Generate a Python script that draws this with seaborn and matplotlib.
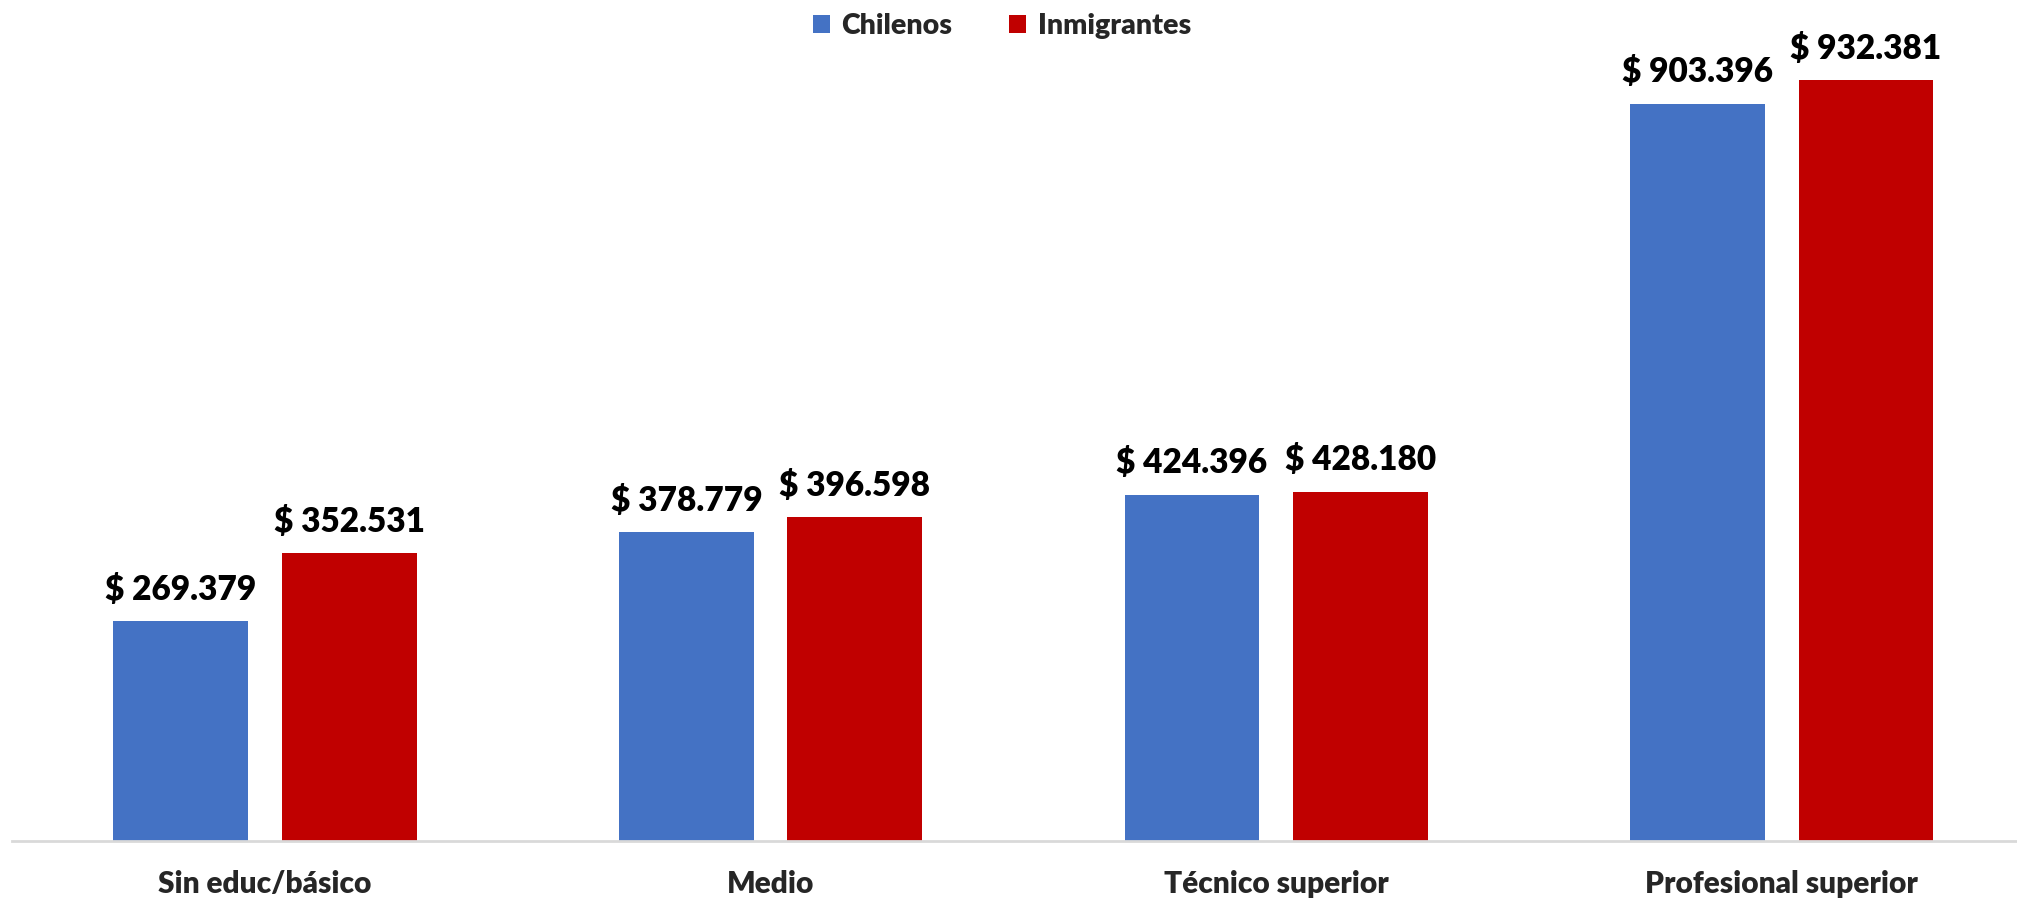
import matplotlib
matplotlib.use('Agg')
import matplotlib.pyplot as plt
import pandas as pd
import seaborn as sns

categories = ['Sin educ/básico', 'Medio', 'Técnico superior', 'Profesional superior']
chilenos = [269379, 378779, 424396, 903396]
inmigrantes = [352531, 396598, 428180, 932381]
series = ['Chilenos', 'Inmigrantes']
colors = ['#4472C4', '#C00000']


def fmt(v):
    return '$ ' + f'{v:,.0f}'.replace(',', '.')


df = pd.DataFrame({
    'nivel': categories * 2,
    'grupo': [series[0]] * len(categories) + [series[1]] * len(categories),
    'ingreso': chilenos + inmigrantes,
})

sns.set_theme(style='white')
plt.rcParams['font.family'] = ['Lato', 'DejaVu Sans']
WEIGHT = 'heavy'

W, H = 2017, 899
fig = plt.figure(figsize=(W / 100, H / 100), dpi=100)
# axes from x=12px to right edge, top of figure down to baseline at y=841px
ax = fig.add_axes([12.3 / W, (H - 841) / H, (W - 12.3) / W, 841 / H])

sns.barplot(data=df, x='nivel', y='ingreso', hue='grupo', order=categories,
            hue_order=series, palette=colors, width=0.666, gap=0.2,
            saturation=1, linewidth=0, ax=ax)

ax.set_ylim(0, 1030500)
# category spacing 505.6 px, first centre at 265 px
step = 505.6
ax.set_xlim(-(265 - 12.3) / step, (W - 265) / step)

for cont in ax.containers:
    ax.bar_label(cont, labels=[fmt(b.get_height()) for b in cont],
                 padding=11, fontsize=24, fontweight=WEIGHT, color='black')

ax.set_xlabel('')
ax.set_ylabel('')
ax.set_yticks([])
ax.tick_params(axis='x', length=0, pad=21, labelsize=21.5)
for lab in ax.get_xticklabels():
    lab.set_fontweight(WEIGHT)
for side in ['top', 'right', 'left']:
    ax.spines[side].set_visible(False)
ax.spines['bottom'].set_color('#d9d9d9')
ax.spines['bottom'].set_linewidth(2)

leg = ax.legend(loc='upper center', bbox_to_anchor=(1002 / W, 1 + 1 / H),
                bbox_transform=fig.transFigure, ncol=2, frameon=False,
                fontsize=20.5, handlelength=0.6, handleheight=0.6,
                handletextpad=0.4, columnspacing=2.0, borderaxespad=0.1)
for t in leg.get_texts():
    t.set_fontweight(WEIGHT)

fig.savefig('out.png', dpi=100)
